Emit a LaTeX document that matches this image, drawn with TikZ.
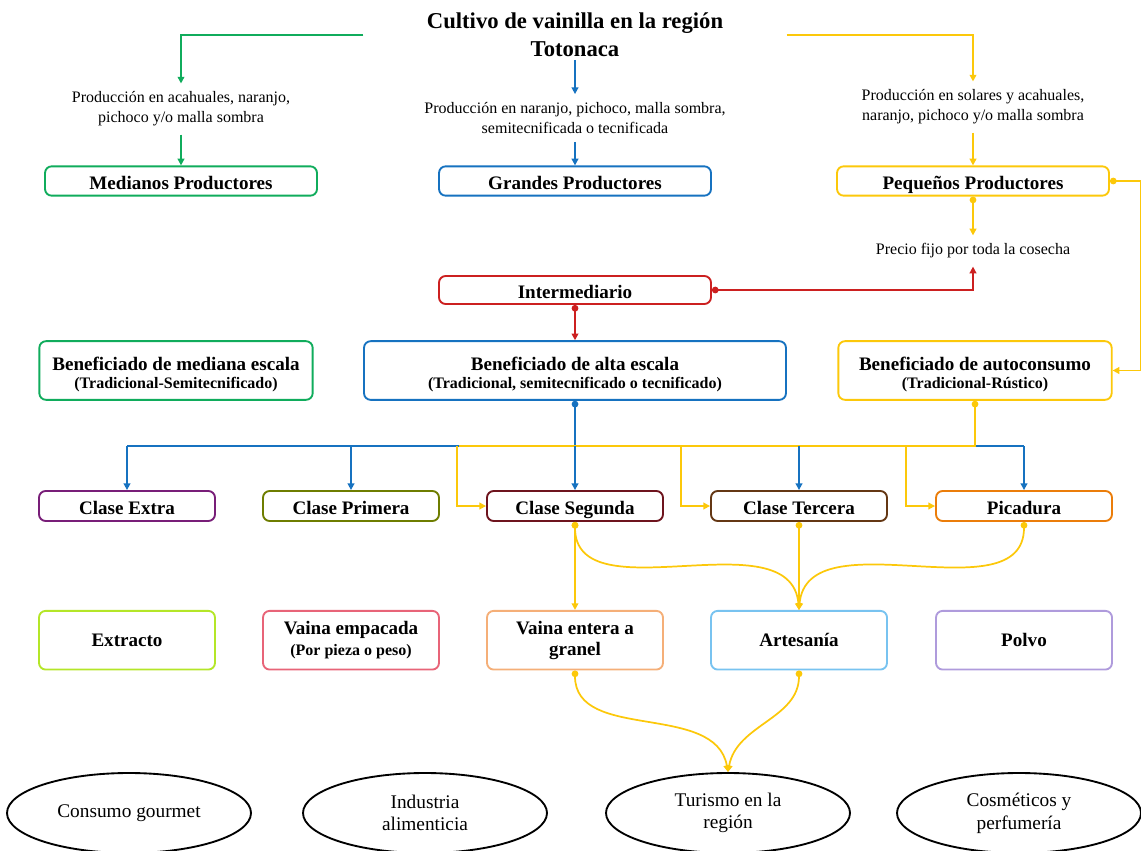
\documentclass[tikz,border=0pt]{standalone}
\usepackage{fontspec}
\setmainfont{Liberation Serif}
\usepackage{tikz}
\usetikzlibrary{positioning,shapes,arrows.meta}
\newcommand*{\subtxt}[1]{{\fontsize{12}{14}\selectfont #1}}
\definecolor{verde}{RGB}{16,172,92}
\definecolor{azul}{RGB}{22,114,192}
\definecolor{amarillo}{RGB}{252,200,10}
\definecolor{rojo}{RGB}{204,32,32}
\definecolor{morado}{RGB}{120,30,120}
\definecolor{oliva}{RGB}{110,125,0}
\definecolor{vino}{RGB}{110,20,30}
\definecolor{cafe}{RGB}{100,55,20}
\definecolor{naranja}{RGB}{235,125,10}
\definecolor{limon}{RGB}{180,230,40}
\definecolor{rosa}{RGB}{232,100,120}
\definecolor{durazno}{RGB}{245,175,120}
\definecolor{celeste}{RGB}{120,195,240}
\definecolor{lila}{RGB}{175,155,220}

\begin{document}
\begin{tikzpicture}[x=0.75pt,y=0.75pt]
	\tikzstyle{caja}=[rectangle, draw, rounded corners=5pt, line width=1.4pt, fill=white,
	text=black, align=center, inner sep=0pt, font=\bfseries\fontsize{14.3}{16}\selectfont]
	\tikzstyle{angosta}=[caja, minimum width=204pt, minimum height=22pt, text height=12pt, text depth=0pt]
	\tikzstyle{ancha}=[caja, minimum width=205pt, minimum height=44pt]
	\tikzstyle{clase}=[caja, minimum width=132pt, minimum height=22.5pt, text height=12pt, text depth=0pt]
	\tikzstyle{producto}=[caja, minimum width=132pt, minimum height=44pt]
	\tikzstyle{nota}=[align=center, font=\fontsize{12}{15}\selectfont, inner sep=6pt]
	\tikzstyle{destino}=[ellipse, draw, line width=1.4pt, minimum width=183pt, minimum height=60pt,
	inner sep=0pt, align=center, font=\fontsize{14.5}{17}\selectfont]
	\tikzstyle{line}=[line width=1.3pt]
	\tikzstyle{flecha}=[line, -{Triangle[length=5pt,width=5pt]}]
	\tikzstyle{punto}=[line, {Circle[length=5pt]}-{Triangle[length=5pt,width=5pt]}]

	\useasboundingbox (0,0) rectangle (1141,-850);

	\node (titulo) at (575,-35) [align=center, minimum width=317pt, inner sep=2pt,
	font=\bfseries\fontsize{17}{21}\selectfont] {Cultivo de vainilla en la región\\Totonaca};

	% productores
	\node (medtxt) at (181,-109) [nota] {Producción en acahuales, naranjo,\\pichoco y/o malla sombra};
	\node (grantxt) at (575,-118) [nota] {Producción en naranjo, pichoco, malla sombra,\\semitecnificada o tecnificada};
	\node (peqtxt) at (973,-107) [nota] {Producción en solares y acahuales,\\naranjo, pichoco y/o malla sombra};
	\node (medianos) at (181,-181) [angosta, draw=verde] {Medianos Productores};
	\node (grandes) at (575,-181) [angosta, draw=azul] {Grandes Productores};
	\node (pequenos) at (973,-181) [angosta, draw=amarillo] {Pequeños Productores};
	\node (precio) at (973,-251) [nota] {Precio fijo por toda la cosecha};
	\node (inter) at (575,-290) [angosta, minimum height=21pt, draw=rojo] {Intermediario};

	% beneficiado
	\node (mediana) at (176,-370.5) [ancha, draw=verde] {\rule{0pt}{16pt}Beneficiado de mediana escala\\[-3pt]\subtxt{(Tradicional-Semitecnificado)}};
	\node (alta) at (575,-370.5) [ancha, minimum width=316.5pt, draw=azul] {\rule{0pt}{16pt}Beneficiado de alta escala\\[-3pt]\subtxt{(Tradicional, semitecnificado o tecnificado)}};
	\node (auto) at (975,-370.5) [ancha, draw=amarillo] {\rule{0pt}{16pt}Beneficiado de autoconsumo\\[-3pt]\subtxt{(Tradicional-Rústico)}};

	% clases
	\node (extra) at (127,-506) [clase, draw=morado] {Clase Extra};
	\node (primera) at (351,-506) [clase, draw=oliva] {Clase Primera};
	\node (segunda) at (575,-506) [clase, draw=vino] {Clase Segunda};
	\node (tercera) at (799,-506) [clase, draw=cafe] {Clase Tercera};
	\node (picadura) at (1024,-506) [clase, draw=naranja] {Picadura};

	% productos
	\node (extracto) [producto, draw=limon, below=66pt of extra] {Extracto};
	\node (empacada) [producto, draw=rosa, below=66pt of primera] {Vaina empacada\\\subtxt{(Por pieza o peso)}};
	\node (entera) [producto, draw=durazno, below=66pt of segunda] {Vaina entera a\\granel};
	\node (artesania) [producto, draw=celeste, below=66pt of tercera] {Artesanía};
	\node (polvo) [producto, draw=lila, below=66pt of picadura] {Polvo};

	% destinos
	\node (gourmet) at (129,-813) [destino] {Consumo gourmet};
	\node (industria) at (425,-813) [destino] {Industria\\alimenticia};
	\node (turismo) at (728,-813) [destino] {Turismo en la\\región};
	\node (cosmeticos) at (1019,-813) [destino] {Cosméticos y\\perfumería};

	\coordinate (bus) at (459,-446);

	\draw[flecha, verde] (titulo.west) -| (medtxt.north);
	\draw[flecha, verde] (medtxt.south) -- (medianos.north);
	\draw[flecha, azul] (titulo.south) -- (grantxt.north);
	\draw[flecha, azul] (grantxt.south) -- (grandes.north);
	\draw[flecha, amarillo] (titulo.east) -| (peqtxt.north);
	\draw[flecha, amarillo] (peqtxt.south) -- (pequenos.north);
	\draw[punto, amarillo] (pequenos.south) -- (precio.north);
	\draw[punto, amarillo] (pequenos.east) -- ++(31,0) |- (auto.east);
	\draw[punto, rojo] (inter.east) -| (precio.south);
	\draw[punto, rojo] (inter.south) -- (alta.north);

	% reparto a las clases
	\draw[line, azul, {Circle[length=5pt]}-] (alta.south) -- (alta.south |- bus);
	\draw[line, azul] (extra.north |- bus) -- (picadura.north |- bus);
	\draw[line, amarillo, {Circle[length=5pt]}-] (auto.south) |- (bus);
	\foreach \c in {segunda,tercera,picadura}
		\draw[flecha, amarillo] (\c.west |- bus) ++(-29,0) |- (\c.west);
	\foreach \c in {extra,primera,segunda,tercera,picadura}
		\draw[flecha, azul] (\c.north |- bus) -- (\c.north);

	\draw[punto, amarillo] (segunda.south) -- (entera.north);
	\draw[punto, amarillo] (segunda.south) to[out=-90, in=95] (artesania.north);
	\draw[punto, amarillo] (tercera.south) -- (artesania.north);
	\draw[punto, amarillo] (picadura.south) to[out=-90, in=85] (artesania.north);
	\draw[punto, amarillo] (entera.south) to[out=-90, in=100] (turismo.north);
	\draw[punto, amarillo] (artesania.south) to[out=-90, in=80] (turismo.north);
\end{tikzpicture}
\end{document}
